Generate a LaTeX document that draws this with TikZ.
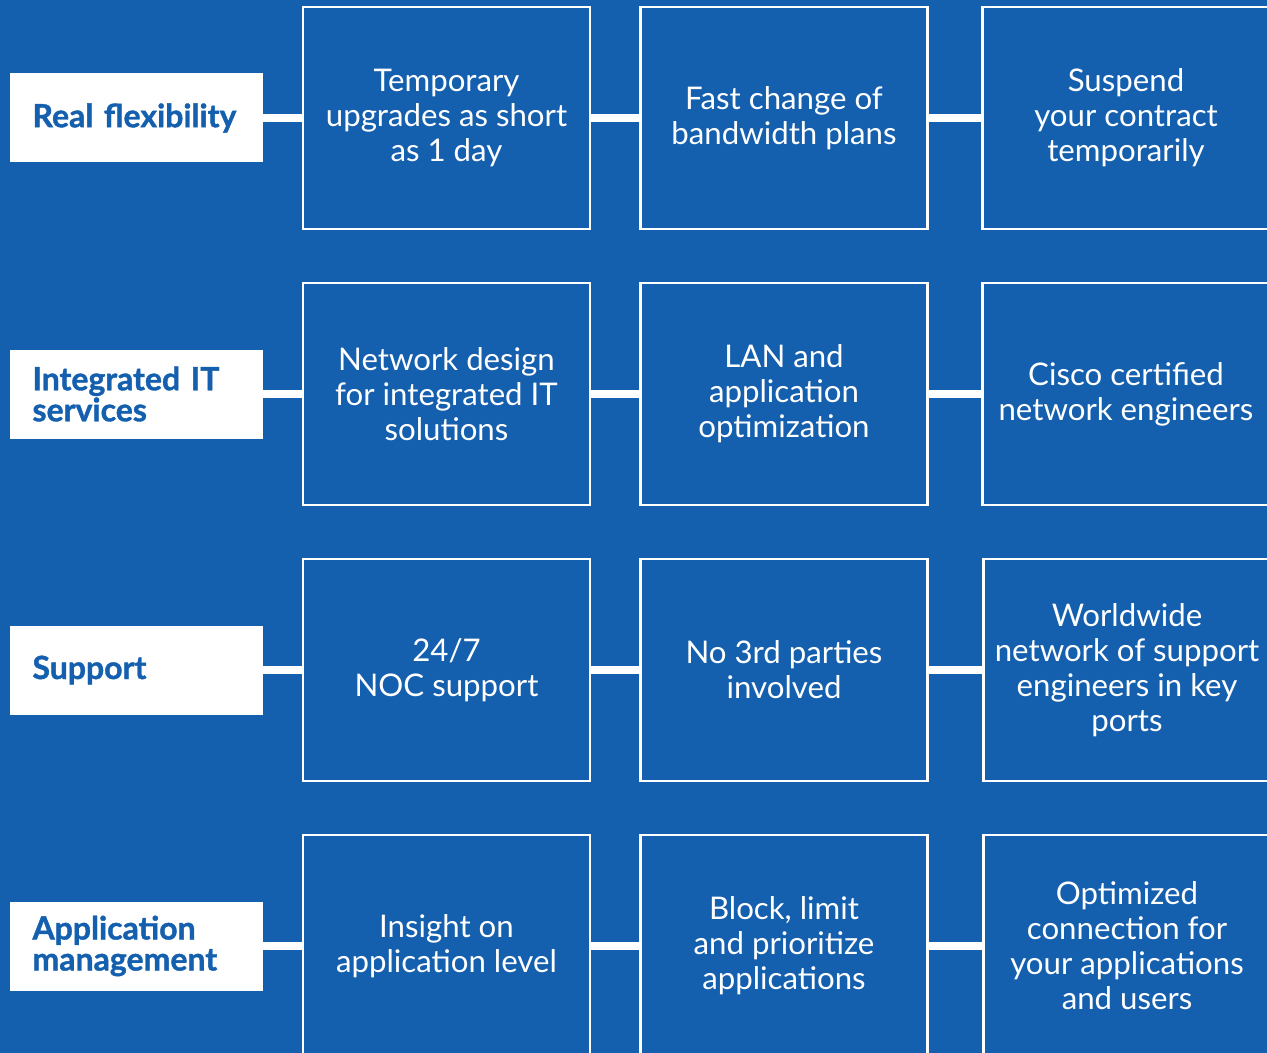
\documentclass[tikz,border=0pt]{standalone}
\usepackage{fontspec}
\setmainfont{Lato}
\newfontfamily\headfont{Lato}[FakeBold=1.2]
\newcommand\headtext{\headfont\fontsize{16}{15.5}\selectfont\bfseries\lineskiplimit-20pt\relax}
\definecolor{brandblue}{HTML}{1560AE}

\begin{document}
\begin{tikzpicture}[x=0.5pt,y=-0.5pt,
    headbox/.style={fill=white,text=brandblue,font=\headtext,
      minimum width=126.5pt,minimum height=44.5pt,text width=104pt,inner xsep=11.25pt,align=left},
    cardbox/.style={draw=white,line width=1.25pt,text=white,font=\fontsize{15.6}{17.5}\selectfont,
      minimum width=143.5pt,minimum height=111pt,align=center},
    link/.style={white,line width=4pt}]
    \fill[brandblue] (0,0) rectangle (1267,1053);
    \useasboundingbox (0,0) rectangle (1267,1053);

    % Real flexibility
    \node[headbox] (flex) at (136.5,118) {Real flexibility};
    \node[cardbox] (flexA) at (446.5,118) {Temporary\\upgrades as short\\as 1 day};
    \node[cardbox] (flexB) at (784,118) {Fast change of\\bandwidth plans};
    \node[cardbox] (flexC) at (1126,118) {Suspend\\your contract\\temporarily};

    % Integrated IT services
    \node[headbox] (integ) at (136.5,394) {Integrated IT\\services};
    \node[cardbox] (integA) at (446.5,394) {Network design\\for integrated IT\\solutions};
    \node[cardbox] (integB) at (784,394) {LAN and\\application\\optimization};
    \node[cardbox] (integC) at (1126,394) {Cisco certified\\network engineers};

    % Support
    \node[headbox] (supp) at (136.5,670) {Support};
    \node[cardbox] (suppA) at (446.5,670) {24/7\\NOC support};
    \node[cardbox] (suppB) at (784,670) {No 3rd parties\\involved};
    \node[cardbox] (suppC) at (1127,670) {Worldwide\\network of support\\engineers in key\\ports};

    % Application management
    \node[headbox] (appl) at (136.5,946) {Application\\management};
    \node[cardbox] (applA) at (446.5,946) {Insight on\\application level};
    \node[cardbox] (applB) at (784,946) {Block, limit\\and prioritize\\applications};
    \node[cardbox] (applC) at (1127,946) {Optimized\\connection for\\your applications\\and users};

    \draw[link] (flex) -- (flexA);
    \draw[link] (flexA) -- (flexB);
    \draw[link] (flexB) -- (flexC);
    \draw[link] (integ) -- (integA);
    \draw[link] (integA) -- (integB);
    \draw[link] (integB) -- (integC);
    \draw[link] (supp) -- (suppA);
    \draw[link] (suppA) -- (suppB);
    \draw[link] (suppB) -- (suppC);
    \draw[link] (appl) -- (applA);
    \draw[link] (applA) -- (applB);
    \draw[link] (applB) -- (applC);
\end{tikzpicture}
\end{document}
